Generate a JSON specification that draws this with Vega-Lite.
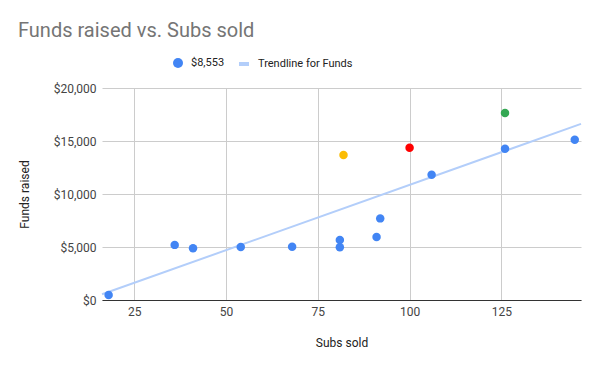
{
  "$schema": "https://vega.github.io/schema/vega-lite/v6.json",
  "width": 479,
  "height": 212,
  "autosize": {"type": "none"},
  "padding": {"left": 102, "top": 88, "right": 19, "bottom": 71},
  "background": "white",
  "title": {
    "text": "Funds raised vs. Subs sold",
    "anchor": "start",
    "frame": "group",
    "dx": -84,
    "offset": 16,
    "fontSize": 20,
    "font": "Roboto",
    "fontWeight": "normal",
    "color": "#757575"
  },
  "config": {
    "view": {"stroke": null},
    "axis": {
      "labelFont": "Roboto",
      "labelFontSize": 12,
      "labelColor": "#444444",
      "titleFont": "Roboto",
      "titleFontSize": 12,
      "titleFontWeight": "normal",
      "titleColor": "#222222",
      "gridColor": "#cccccc",
      "ticks": false
    },
    "legend": {
      "labelFont": "Roboto",
      "labelFontSize": 11,
      "labelColor": "#222222",
      "labelOffset": 7
    }
  },
  "data": {
    "values": [
      {"subs": 18, "funds": 470, "series": "$8,553"},
      {"subs": 36, "funds": 5200, "series": "$8,553"},
      {"subs": 41, "funds": 4880, "series": "$8,553"},
      {"subs": 54, "funds": 5000, "series": "$8,553"},
      {"subs": 68, "funds": 5030, "series": "$8,553"},
      {"subs": 81, "funds": 5660, "series": "$8,553"},
      {"subs": 81, "funds": 4970, "series": "$8,553"},
      {"subs": 82, "funds": 13680, "series": "Highlight A"},
      {"subs": 91, "funds": 5940, "series": "$8,553"},
      {"subs": 92, "funds": 7700, "series": "$8,553"},
      {"subs": 100, "funds": 14370, "series": "Highlight B"},
      {"subs": 106, "funds": 11820, "series": "$8,553"},
      {"subs": 126, "funds": 14270, "series": "$8,553"},
      {"subs": 126, "funds": 17640, "series": "Highlight C"},
      {"subs": 145, "funds": 15120, "series": "$8,553"}
    ]
  },
  "layer": [
    {
      "transform": [{"regression": "funds", "on": "subs", "extent": [16.2, 146.7]}],
      "mark": {"type": "line", "strokeWidth": 2},
      "encoding": {
        "x": {"field": "subs", "type": "quantitative"},
        "y": {"field": "funds", "type": "quantitative"},
        "stroke": {
          "datum": "Trendline for Funds",
          "scale": {"domain": ["Trendline for Funds"], "range": ["#b3cefa"]},
          "legend": {
            "title": null,
            "orient": "none",
            "legendX": 135,
            "legendY": -31,
            "symbolType": "stroke",
            "symbolSize": 100,
            "symbolStrokeWidth": 4
          }
        }
      }
    },
    {
      "mark": {"type": "circle", "size": 72, "opacity": 1},
      "encoding": {
        "x": {
          "field": "subs",
          "type": "quantitative",
          "scale": {"domain": [16.2, 146.7], "nice": false, "zero": false},
          "axis": {
            "title": "Subs sold",
            "values": [25, 50, 75, 100, 125],
            "domainColor": "#333333",
            "labelPadding": 6,
            "titlePadding": 20
          }
        },
        "y": {
          "field": "funds",
          "type": "quantitative",
          "scale": {"domain": [0, 20000], "nice": false},
          "axis": {
            "title": "Funds raised",
            "values": [0, 5000, 10000, 15000, 20000],
            "format": "$,.0f",
            "domain": false,
            "labelPadding": 6,
            "titlePadding": 22
          }
        },
        "color": {
          "field": "series",
          "type": "nominal",
          "scale": {
            "domain": ["$8,553", "Highlight A", "Highlight B", "Highlight C"],
            "range": ["#4285F4", "#FBBC04", "#FF0000", "#34A853"]
          },
          "legend": {
            "title": null,
            "orient": "none",
            "legendX": 70,
            "legendY": -31,
            "values": ["$8,553"],
            "symbolSize": 100,
            "symbolOpacity": 1
          }
        }
      }
    }
  ]
}
